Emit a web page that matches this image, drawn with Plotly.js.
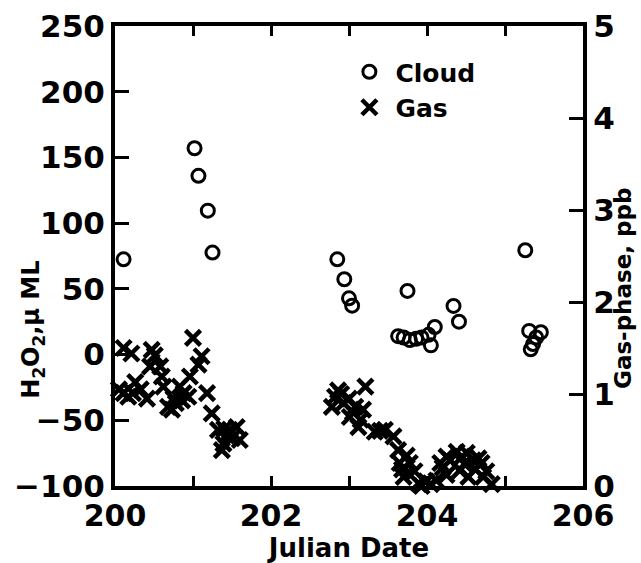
<!DOCTYPE html>
<html>
<head>
<meta charset="utf-8">
<script src="https://cdn.plot.ly/plotly-3.0.1.min.js"></script>
<style>
  html, body { margin: 0; padding: 0; background: #fff; }
  #chart { width: 641px; height: 563px; }
</style>
</head>
<body>
<div id="chart"></div>
<script>
// Cloud-water H2O2 (µM) against Julian date
const cloudDay = [200.11, 201.02, 201.07, 201.19, 201.25,
  202.85, 202.94, 203.00, 203.04,
  203.75, 203.63, 203.70, 203.78, 203.86, 203.93, 204.02, 204.10, 204.05,
  204.34, 204.41,
  205.26, 205.31, 205.46, 205.40, 205.36, 205.33];
const cloudH2O2 = [72.5, 157, 136, 109.5, 77.6,
  72.5, 57.3, 42.8, 37.2,
  48.4, 14, 13, 11, 12, 13, 15, 21, 7,
  37, 25,
  79.4, 18, 17, 13, 8, 4];

// Gas-phase H2O2 (ppb) against Julian date
const gasDay = [200.11, 200.21, 200.11, 200.26, 200.23, 200.41, 200.47, 200.51,
  200.58, 200.60, 200.62, 200.68, 200.73, 200.78, 200.83, 200.88, 200.94, 200.96,
  201.00, 201.07, 201.11, 201.18, 201.24, 201.32, 201.39, 201.37, 201.47, 201.56,
  201.60,
  200.05, 200.17, 200.33, 200.45, 200.75, 200.86, 201.40, 201.43, 201.50,
  202.78, 202.86, 202.93, 203.01, 203.08, 203.12, 203.18, 203.21, 203.33, 203.46,
  203.57, 203.63, 203.65, 203.70, 203.78, 203.89, 203.99, 204.12, 204.17, 204.25,
  204.25, 204.38, 204.42, 204.51, 204.53, 204.59, 204.70, 204.76, 204.83,
  202.82, 202.90, 203.00, 203.05, 203.15, 203.40, 203.68, 203.74, 203.84, 203.93,
  204.05, 204.20, 204.30, 204.45, 204.48, 204.62, 204.66, 204.72];
const gasPpb = [1.50, 1.44, 1.01, 1.13, 1.01, 0.95, 1.48, 1.42,
  1.30, 1.19, 1.08, 0.86, 0.83, 0.90, 1.08, 1.01, 0.97, 1.19,
  1.61, 1.32, 1.41, 1.01, 0.79, 0.61, 0.46, 0.39, 0.61, 0.64,
  0.50,
  1.05, 0.97, 1.05, 1.30, 0.95, 0.93, 0.62, 0.55, 0.52,
  0.86, 1.04, 0.90, 0.75, 0.86, 0.64, 0.83, 1.08, 0.59, 0.61,
  0.54, 0.39, 0.25, 0.10, 0.25, 0.03, 0.05, 0.06, 0.25, 0.32,
  0.12, 0.37, 0.17, 0.36, 0.10, 0.28, 0.25, 0.16, 0.02,
  0.97, 1.00, 0.95, 0.80, 0.72, 0.60, 0.18, 0.33, 0.16, 0.00,
  0.02, 0.20, 0.28, 0.32, 0.24, 0.18, 0.30, 0.10];

const xTickVals = [200, 201, 202, 203, 204, 205, 206];
const xTickText = ['200', '', '202', '', '204', '', '206'];
const yTickVals = [-100, -50, 0, 50, 100, 150, 200, 250];
const y2TickVals = [0, 1, 2, 3, 4, 5];

const FONT = 'DejaVu Sans, Arial, sans-serif';

const traces = [
  {
    x: cloudDay, y: cloudH2O2, name: 'Cloud', type: 'scatter', mode: 'markers',
    yaxis: 'y', cliponaxis: false,
    marker: { symbol: 'circle-open', size: 13, color: '#000', line: { width: 3, color: '#000' } }
  },
  {
    x: gasDay, y: gasPpb, name: 'Gas', type: 'scatter', mode: 'markers',
    yaxis: 'y2', cliponaxis: false,
    marker: { symbol: 'x-thin-open', size: 15, color: '#000', line: { width: 4.5, color: '#000' } }
  }
];

const layout = {
  width: 641, height: 563,
  margin: { l: 115, r: 58, t: 26, b: 77 },
  paper_bgcolor: '#fff', plot_bgcolor: '#fff',
  font: { family: FONT, color: '#000', size: 24, weight: 'bold' },
  showlegend: true,
  legend: {
    x: 0.488, y: 0.95, xanchor: 'left', yanchor: 'top',
    bgcolor: 'rgba(0,0,0,0)', borderwidth: 0,
    font: { family: FONT, size: 25, color: '#000', weight: 'bold' },
    itemwidth: 42, tracegroupgap: 0
  },
  xaxis: {
    range: [200, 206], tickvals: xTickVals, ticktext: xTickText,
    ticks: 'inside', ticklen: 10, tickwidth: 3, tickcolor: '#000',
    showline: true, linewidth: 4, linecolor: '#000', mirror: 'ticks',
    showgrid: false, zeroline: false,
    tickfont: { family: FONT, size: 30, weight: 'bold' },
    title: { text: 'Julian Date', font: { family: FONT, size: 26, weight: 'bold' }, standoff: 8 }
  },
  yaxis: {
    range: [-100, 250], tickvals: yTickVals,
    ticks: 'inside', ticklen: 14, tickwidth: 3, tickcolor: '#000',
    showline: true, linewidth: 4, linecolor: '#000',
    showgrid: false, zeroline: false,
    tickfont: { family: FONT, size: 31, weight: 'bold' }
  },
  yaxis2: {
    range: [0, 5], tickvals: y2TickVals, overlaying: 'y', side: 'right',
    ticks: 'inside', ticklen: 14, tickwidth: 3, tickcolor: '#000',
    showline: true, linewidth: 4, linecolor: '#000',
    showgrid: false, zeroline: false,
    tickfont: { family: FONT, size: 31, weight: 'bold' }
  },
  annotations: [
    {
      text: 'H<sub>2</sub>O<sub>2</sub>,µ ML', textangle: -90, showarrow: false,
      xref: 'paper', yref: 'paper', x: -0.175, y: 0.34, xanchor: 'center', yanchor: 'middle',
      font: { family: FONT, size: 24, weight: 'bold', color: '#000' }
    },
    {
      text: 'Gas-phase, ppb', textangle: -90, showarrow: false,
      xref: 'paper', yref: 'paper', x: 1.085, y: 0.43, xanchor: 'center', yanchor: 'middle',
      font: { family: FONT, size: 23, weight: 'bold', color: '#000' }
    }
  ]
};

Plotly.newPlot('chart', traces, layout, { staticPlot: true, displayModeBar: false });
</script>
</body>
</html>
